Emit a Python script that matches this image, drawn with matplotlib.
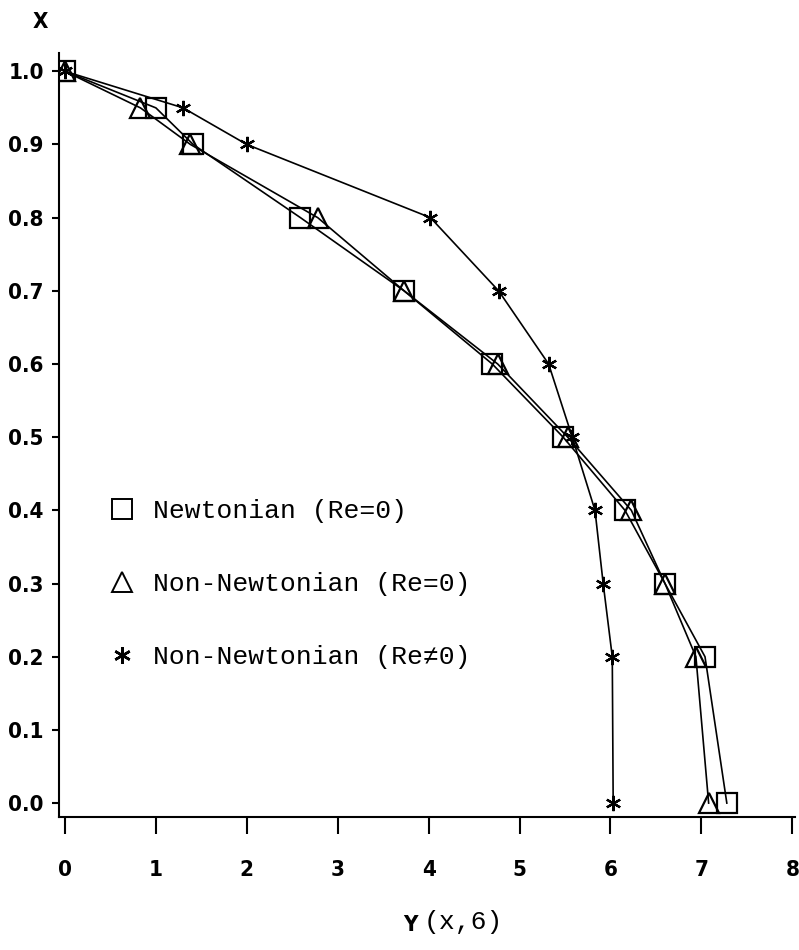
import matplotlib
matplotlib.use("Agg")
import matplotlib.pyplot as plt
from matplotlib.lines import Line2D
from matplotlib import font_manager as fm

# X positions (dimensionless height) shared by all three curves
x_pos = [1.0, 0.95, 0.9, 0.8, 0.7, 0.6, 0.5, 0.4, 0.3, 0.2, 0.0]

# Y(x,6) values
newtonian = [0.0, 1.00, 1.41, 2.59, 3.73, 4.70, 5.48, 6.16, 6.60, 7.04, 7.28]
non_newtonian = [0.0, 0.83, 1.38, 2.78, 3.73, 4.76, 5.53, 6.23, 6.60, 6.94, 7.08]
non_newtonian_re = [0.0, 1.30, 2.00, 4.02, 4.77, 5.32, 5.58, 5.83, 5.92, 6.02, 6.03]

labels = ['Newtonian (Re=0)', 'Non-Newtonian (Re=0)', 'Non-Newtonian (Re\u22600)']
x_ticks = [0, 1, 2, 3, 4, 5, 6, 7, 8]
y_ticks = [0.0, 0.1, 0.2, 0.3, 0.4, 0.5, 0.6, 0.7, 0.8, 0.9, 1.0]

# narrow bold font for the tick numbers if one is around
names = {f.name for f in fm.fontManager.ttflist}
if 'Liberation Sans Narrow' in names:
    tick_font = fm.FontProperties(family='Liberation Sans Narrow', weight='bold', size=17)
else:
    tick_font = fm.FontProperties(family='DejaVu Sans', weight='bold', stretch='condensed', size=16)
mono = ['Liberation Mono', 'DejaVu Sans Mono']

fig = plt.figure(figsize=(7.99, 9.5), dpi=100)
ax = fig.add_axes([59 / 799, 1 - 817 / 950, 736 / 799, 764 / 950])

asterisk = (6, 2, 0)
ax.plot(newtonian, x_pos, '-', color='black', lw=1.2, marker='s', ms=15,
        mfc='none', mec='black', mew=1.6)
ax.plot(non_newtonian, x_pos, '-', color='black', lw=1.2, marker='^', ms=15,
        mfc='none', mec='black', mew=1.6)
ax.plot(non_newtonian_re, x_pos, '-', color='black', lw=1.2, marker=asterisk, ms=11,
        mec='black', mew=1.6)

ax.set_xlim(-0.066, 8.03)
ax.set_ylim(-0.019, 1.025)
ax.spines['top'].set_visible(False)
ax.spines['right'].set_visible(False)
ax.spines['left'].set_linewidth(1.5)
ax.spines['bottom'].set_linewidth(1.5)

ax.set_xticks(x_ticks)
ax.set_xticklabels([str(t) for t in x_ticks], fontproperties=tick_font)
ax.set_yticks(y_ticks)
ax.set_yticklabels(['%.1f' % t for t in y_ticks], fontproperties=tick_font)
ax.tick_params(axis='x', direction='out', length=12, width=1.5, pad=19)
ax.tick_params(axis='y', direction='out', length=5, width=1.5, pad=6)

# axis titles
ax.annotate('X', xy=(40 / 799, 1 - 22 / 950), xycoords='figure fraction',
            ha='center', va='center', fontproperties=tick_font)
ax.annotate('Y', xy=(410 / 799, 1 - 925 / 950), xycoords='figure fraction',
            ha='center', va='center', fontproperties=tick_font)
ax.annotate('(x,6)', xy=(424 / 799, 1 - 922 / 950), xycoords='figure fraction',
            ha='left', va='center', family=mono, fontsize=19)

handles = [
    Line2D([], [], ls='none', marker='s', ms=14, mfc='none', mec='black', mew=1.4),
    Line2D([], [], ls='none', marker='^', ms=15, mfc='none', mec='black', mew=1.4),
    Line2D([], [], ls='none', marker=asterisk, ms=12, mec='black', mew=1.8),
]
ax.legend(handles, labels, loc='upper left', bbox_to_anchor=(0.068, 0.416),
          frameon=False, prop={'family': mono, 'size': 19}, handlelength=1.0,
          handletextpad=0.65, labelspacing=1.86, borderpad=0, borderaxespad=0)

fig.savefig('out.png', dpi=100)
